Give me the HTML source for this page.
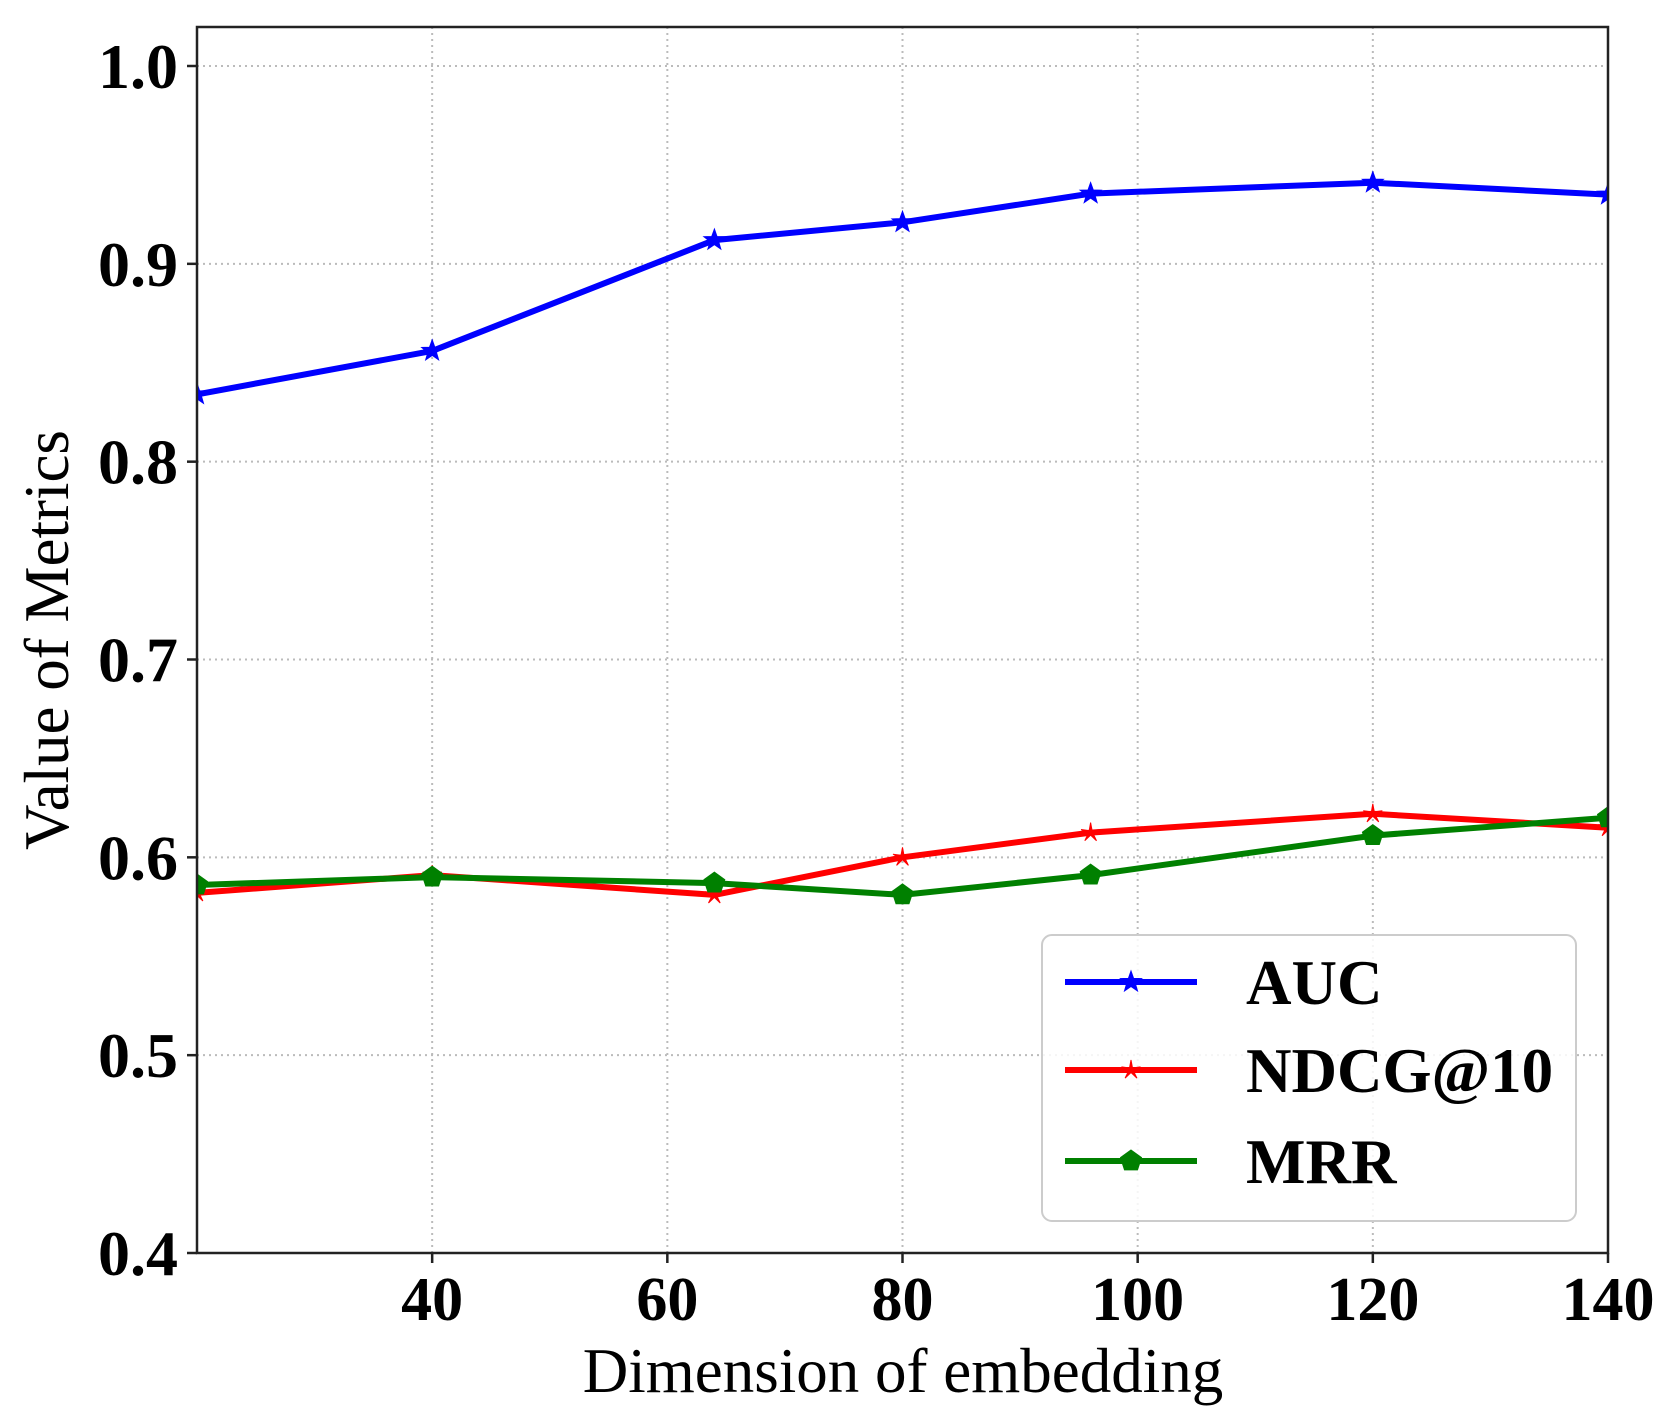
<!DOCTYPE html>
<html><head><meta charset="utf-8"><style>
html,body{margin:0;padding:0;background:#fff;}
svg{display:block;font-family:"Liberation Serif",serif;}
</style></head><body>
<svg id="chart" width="1670" height="1422" viewBox="0 0 1670 1422">
<defs><clipPath id="plotclip"><rect x="197" y="27" width="1411" height="1226"/></clipPath></defs>
<g id="grid"></g>
<g id="series" clip-path="url(#plotclip)"></g>
<rect x="197" y="27" width="1411" height="1226" fill="none" stroke="#222" stroke-width="2.5"/>
<g id="ticks"></g>
<text x="903" y="1392" font-size="63" text-anchor="middle">Dimension of embedding</text>
<text transform="translate(68,640) rotate(-90)" font-size="63" text-anchor="middle">Value of Metrics</text>
<g id="legend">
<rect x="1042" y="935" width="534" height="286" rx="10" fill="#fff" fill-opacity="0.85" stroke="#ccc" stroke-width="2"/>
</g>
</svg>
<script>
const xValues = [20, 40, 64, 80, 96, 120, 140];
const aucValues = [0.834, 0.856, 0.912, 0.921, 0.9355, 0.941, 0.935];
const ndcgValues = [0.582, 0.591, 0.581, 0.600, 0.6125, 0.622, 0.615];
const mrrValues = [0.586, 0.590, 0.587, 0.581, 0.591, 0.611, 0.620];
const xTicks = [40, 60, 80, 100, 120, 140];
const yTicks = [0.4, 0.5, 0.6, 0.7, 0.8, 0.9, 1.0];
const seriesNames = ["AUC", "NDCG@10", "MRR"];

const NS = "http://www.w3.org/2000/svg";
const L = 197, R = 1608, T = 27, B = 1253;
const xMin = 20, xMax = 140, yMin = 0.4, yTop = 1.0, yTopPx = 66;
function xs(v){ return L + (v - xMin) / (xMax - xMin) * (R - L); }
function ys(v){ return B - (v - yMin) / (yTop - yMin) * (B - yTopPx); }
function mk(tag, attrs, parent){ const e = document.createElementNS(NS, tag); for (const k in attrs) e.setAttribute(k, attrs[k]); parent.appendChild(e); return e; }

const grid = document.getElementById('grid'), ticks = document.getElementById('ticks');
xTicks.forEach(t => {
  const g = mk('line', {x1: xs(t), x2: xs(t), y1: T, y2: B, stroke: '#bbb', 'stroke-width': 2, 'stroke-dasharray': '2,4'}, grid);
  
  
  const tk = mk('line', {x1: xs(t), x2: xs(t), y1: B, y2: B + 10, stroke: '#222', 'stroke-width': 2.5}, ticks);
  
  
  const lb = mk('text', {x: xs(t), y: 1320, 'font-size': 62, 'font-weight': 'bold', 'text-anchor': 'middle'}, ticks);
  lb.textContent = String(t);
  
  
});
yTicks.forEach(t => {
  const g = mk('line', {x1: L, x2: R, y1: ys(t), y2: ys(t), stroke: '#bbb', 'stroke-width': 2, 'stroke-dasharray': '2,4'}, grid);
  
  
  const tk = mk('line', {x1: L - 10, x2: L, y1: ys(t), y2: ys(t), stroke: '#222', 'stroke-width': 2.5}, ticks);
  
  
  const lb = mk('text', {x: 178, y: ys(t) + 22, 'font-size': 64, 'font-weight': 'bold', 'text-anchor': 'end'}, ticks);
  lb.textContent = t.toFixed(1);
  
  
});

function starPts(cx, cy, ro, ri){ let p = []; for (let i = 0; i < 10; i++){ const a = -Math.PI/2 + i*Math.PI/5; const r = i%2 ? ri : ro; p.push((cx + r*Math.cos(a)).toFixed(1) + ',' + (cy + r*Math.sin(a)).toFixed(1)); } return p.join(' '); }
function pentPts(cx, cy, r){ let p = []; for (let i = 0; i < 5; i++){ const a = -Math.PI/2 + i*2*Math.PI/5; p.push((cx + r*Math.cos(a)).toFixed(1) + ',' + (cy + r*Math.sin(a)).toFixed(1)); } return p.join(' '); }
function marker(type, cx, cy, color, parent){
  if (type === 'star') return mk('polygon', {points: starPts(cx, cy, 11, 4.5), fill: color, stroke: color, 'stroke-width': 1}, parent);
  if (type === 'tri') return mk('polygon', {points: starPts(cx, cy, 10, 2.5), fill: color, stroke: color, 'stroke-width': 1}, parent);
  return mk('polygon', {points: pentPts(cx, cy, 11), fill: color, stroke: color, 'stroke-width': 1}, parent);
}

const seriesVals = [aucValues, ndcgValues, mrrValues];
const colors = ['#0000ff', '#ff0000', '#008000'];
const markers = ['star', 'tri', 'pent'];
const slugs = ['auc', 'ndcg', 'mrr'];
const sg = document.getElementById('series');
seriesVals.forEach((vals, si) => {
  const pts = vals.map((v, i) => xs(xValues[i]).toFixed(1) + ',' + ys(v).toFixed(1)).join(' ');
  const pl = mk('polyline', {points: pts, fill: 'none', stroke: colors[si], 'stroke-width': 6, 'stroke-linejoin': 'round'}, sg);
  
  
  vals.forEach((v, i) => {
    const m = marker(markers[si], xs(xValues[i]), ys(v), colors[si], sg);
    
    
  });
});

const lg = document.getElementById('legend');
const legY = [982, 1070, 1161];
seriesNames.forEach((n, si) => {
  const ln = mk('line', {x1: 1065, x2: 1197, y1: legY[si], y2: legY[si], stroke: colors[si], 'stroke-width': 6}, lg);
  
  
  const m = marker(markers[si], 1131, legY[si], colors[si], lg);
  
  
  const tx = mk('text', {x: 1246, y: legY[si] + 22, 'font-size': 63, 'font-weight': 'bold'}, lg);
  tx.textContent = n;
  
  
});
</script>
</body></html>
